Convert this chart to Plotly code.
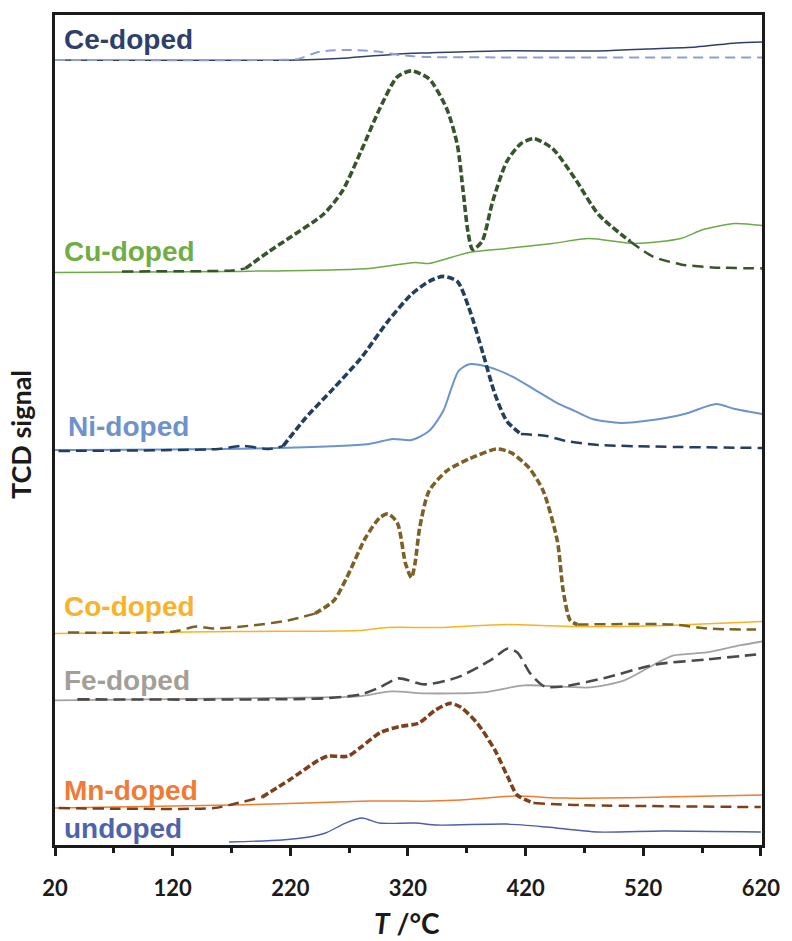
import plotly.graph_objects as go

# ---- data: temperature (°C) and stacked TCD signal (a.u.) ----
ce_T = [20, 227, 269, 312, 337, 396, 481, 523, 565, 599, 621]
ce_S = [787, 787, 789, 793, 794, 796, 796, 798, 800, 804, 805]
ce_ref_T = [20, 210, 227, 244, 269, 297, 312, 334, 396, 621]
ce_ref_S = [787, 787, 788, 795, 797, 795, 792, 790, 789.5, 789.5]

cu_T = [20, 171, 287, 326, 338, 372, 404, 443, 474, 513, 552, 571, 598, 621]
cu_S = [574, 575, 578, 584, 583, 594, 598, 603, 608, 603, 608, 617, 623, 621]
cu_ref_T = [77, 171, 182, 202, 221, 248, 264, 280, 296, 311, 323, 338, 353, 362, 367, 371, 375,
            383, 392, 404, 416, 427, 443, 462, 482, 509, 528, 552, 579, 621]
cu_ref_S = [575, 576, 578, 595, 610, 632, 655, 695, 738, 770, 776, 768, 738, 702, 655, 615, 597,
            605, 645, 685, 703, 708, 698, 668, 632, 605, 590, 582, 579, 578]

ni_T = [20, 210, 287, 307, 323, 338, 350, 357, 363, 372, 389, 408, 427, 447, 462, 477, 501, 528,
        555, 582, 598, 621]
ni_S = [396, 398, 402, 407, 406, 415, 435, 458, 475, 482, 479, 470, 457, 443, 435, 427, 423, 426,
        432, 442, 437, 432]
ni_ref_T = [23, 159, 179, 202, 214, 233, 257, 280, 303, 323, 338, 350, 362, 372, 384, 394, 404,
            416, 438, 454, 482, 621]
ni_ref_S = [395, 397, 400, 397, 400, 428, 458, 488, 525, 552, 565, 570, 565, 538, 492, 452, 425,
            412, 410, 405, 401, 398]

co_T = [20, 171, 278, 303, 345, 404, 462, 503, 540, 621]
co_S = [212, 214, 215, 218, 218, 221, 219, 219, 220, 224]
co_ref_T = [31, 121, 140, 155, 187, 218, 241, 257, 268, 284, 296, 303, 311, 318, 323, 326, 330,
            338, 353, 372, 396, 408, 423, 435, 447, 452, 458, 464, 546, 574, 616]
co_ref_S = [213, 214, 219, 217, 220, 225, 232, 245, 268, 308, 328, 332, 323, 282, 268, 282, 318,
            355, 375, 387, 397, 393, 378, 355, 305, 255, 225, 221, 221, 217, 216]

fe_T = [20, 248, 278, 306, 334, 384, 419, 475, 504, 531, 546, 574, 602, 621]
fe_S = [145, 148, 149, 154, 152, 153, 160, 158, 165, 182, 190, 193, 200, 204]
fe_ref_T = [39, 248, 280, 296, 312, 334, 362, 390, 405, 413, 424, 436, 453, 489, 531, 574, 616]
fe_ref_S = [146, 147, 151, 158, 167, 161, 168, 185, 197, 193, 172, 159, 159, 168, 181, 186, 191]

mn_T = [20, 171, 287, 340, 365, 411, 453, 537, 621]
mn_S = [37, 40, 44, 44, 45, 49, 47, 48, 50]
mn_ref_T = [23, 155, 168, 196, 219, 244, 252, 269, 280, 297, 314, 329, 343, 356, 365, 379, 394,
            405, 413, 427, 466, 620]
mn_ref_S = [37, 37, 40, 48, 65, 85, 89, 89, 98, 113, 119, 122, 135, 142, 138, 122, 95, 68, 50,
            42, 40, 38]

und_T = [168, 213, 236, 250, 267, 281, 296, 326, 345, 404, 438, 481, 537, 620]
und_S = [3, 5, 8, 12, 22, 27, 22, 22, 20, 21, 18, 13, 14, 13]

labels = ["Ce-doped", "Cu-doped", "Ni-doped", "Co-doped", "Fe-doped", "Mn-doped", "undoped"]
label_T = [26, 26, 29, 26, 26, 26, 26]
label_S = [807, 595, 420, 239, 165, 55, 17]
label_colors = ["#2e3f6b", "#70ad47", "#6d93cd", "#f9b22a", "#a39e98", "#ee7b37", "#4f63ad"]

x_ticks = [20, 120, 220, 320, 420, 520, 620]

fig = go.Figure()

def line(T, S, color, width, dash="solid"):
    fig.add_trace(go.Scatter(x=T, y=S, mode="lines", hoverinfo="skip", showlegend=False,
                             line=dict(color=color, width=width, dash=dash,
                                       shape="spline", smoothing=0.7)))

def split_line(T, S, lo, hi, color):
    """baseline parts long-dashed, peak part short-dashed and thicker"""
    a = [i for i, t in enumerate(T) if t <= lo]
    b = [i for i, t in enumerate(T) if lo <= t <= hi]
    c = [i for i, t in enumerate(T) if t >= hi]
    for idx, w, d in ((a, 2.5, "11px,6px"), (b, 3.6, "7px,3px"), (c, 2.5, "11px,6px")):
        if len(idx) > 1:
            line([T[i] for i in idx], [S[i] for i in idx], color, w, d)

# solid curves
line(und_T, und_S, "#4c5fa9", 1.4)
line(mn_T, mn_S, "#ed7d31", 1.5)
line(fe_T, fe_S, "#a6a29f", 1.8)
line(co_T, co_S, "#f8b320", 1.5)
line(ni_T, ni_S, "#6b93cc", 2.0)
line(cu_T, cu_S, "#6aaa47", 1.5)
line(ce_T, ce_S, "#2f3f68", 1.5)

# dashed reference curves
split_line(mn_ref_T, mn_ref_S, 196, 427, "#7d3f1c")
line(fe_ref_T, fe_ref_S, "#4a4a4a", 2.6, "12px,6px")
split_line(co_ref_T, co_ref_S, 241, 464, "#7b6224")
split_line(ni_ref_T, ni_ref_S, 214, 416, "#243e5f")
split_line(cu_ref_T, cu_ref_S, 182, 509, "#37552a")
line(ce_ref_T, ce_ref_S, "#8e9fd5", 2.0, "10px,6px")

annotations = []
for txt, t, s, col in zip(labels, label_T, label_S, label_colors):
    annotations.append(dict(x=t, y=s, xref="x", yref="y", text=txt, showarrow=False,
                            xanchor="left", yanchor="middle",
                            font=dict(family="Liberation Sans, Arial", size=28, color=col,
                                      weight="bold")))
annotations.append(dict(x=0.498, y=-0.0935, xref="paper", yref="paper",
                        text="<i>T</i> /°C", showarrow=False, xanchor="center", yanchor="middle",
                        font=dict(family="Lato", size=28, color="#1a1a1a", weight="bold")))
annotations.append(dict(x=-0.048, y=0.494, xref="paper", yref="paper", text="TCD signal",
                        textangle=-90, showarrow=False, xanchor="center", yanchor="middle",
                        font=dict(family="Lato", size=27, color="#1a1a1a", weight="bold")))

fig.update_layout(
    width=792, height=941,
    margin=dict(l=55, r=26, t=13, b=96),
    paper_bgcolor="white", plot_bgcolor="white",
    annotations=annotations,
    xaxis=dict(range=[20, 621], tickvals=x_ticks, ticktext=[str(v) for v in x_ticks],
               showgrid=False, zeroline=False, showline=True, linewidth=3, linecolor="#1a1a1a",
               mirror=True, ticks="outside", ticklen=8, tickwidth=3, tickcolor="#1a1a1a",
               ticklabelstandoff=14,
               minor=dict(tickvals=[70, 170, 270, 370, 470, 570], ticks="outside", ticklen=5,
                          tickwidth=3, tickcolor="#1a1a1a"),
               tickfont=dict(family="Lato", size=22, color="#1a1a1a", weight="bold")),
    yaxis=dict(range=[0, 832], showticklabels=False, ticks="", showgrid=False, zeroline=False,
               showline=True, linewidth=3, linecolor="#1a1a1a", mirror=True),
)

fig.write_html("out.html")
